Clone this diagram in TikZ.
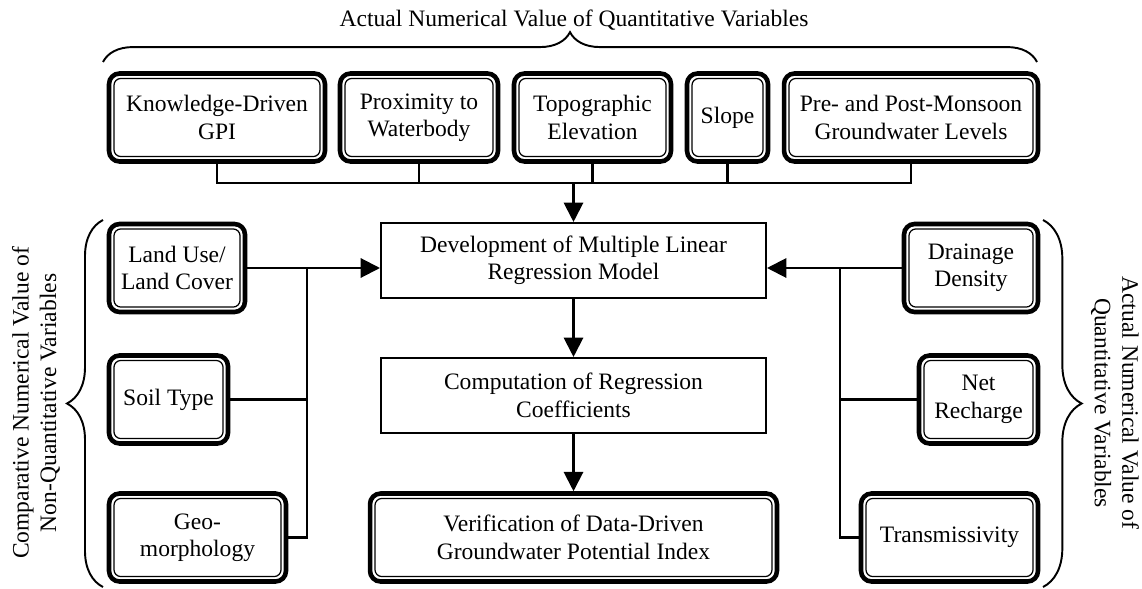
\documentclass[tikz,border=0pt]{standalone}
\usepackage{fontspec}
\setmainfont{Liberation Serif}
\usetikzlibrary{arrows.meta,decorations.pathreplacing}

\begin{document}
\begin{tikzpicture}[x=0.02cm,y=-0.02cm,
  font=\fontsize{13.4}{15.6}\selectfont,
  varbox/.style={draw,line width=2.6pt,rounded corners=6pt,align=center,inner sep=2pt,minimum height=1.76cm,
    path picture={\draw[line width=0.7pt,rounded corners=4pt]
      ([shift={(2.8pt,-2.8pt)}]path picture bounding box.north west) rectangle
      ([shift={(-2.8pt,2.8pt)}]path picture bounding box.south east);}},
  procbox/.style={draw,line width=1.2pt,align=center,minimum width=7.7cm,minimum height=1.5cm},
  link/.style={line width=1.2pt},
  arr/.style={link,-{Triangle[length=11pt,width=11pt]}},
  grp/.style={line width=1.1pt,decorate,decoration={brace,amplitude=#1}}]
  \useasboundingbox (0,0) rectangle (1142,588);

  \node (toplbl) at (574,20) {Actual Numerical Value of Quantitative Variables};
  \node[rotate=90,align=center] (leftlbl) at (36,403) {Comparative Numerical Value of\\Non-Quantitative Variables};
  \node[rotate=-90,align=center] (rightlbl) at (1115,403) {Actual Numerical Value of\\Quantitative Variables};

  \node[varbox,minimum width=4.32cm] (kgpi) at (217,117.5) {Knowledge-Driven\\GPI};
  \node[varbox,minimum width=3.16cm] (prox) at (419,117.5) {Proximity to\\Waterbody};
  \node[varbox,minimum width=3.14cm] (topo) at (592.5,117.5) {Topographic\\Elevation};
  \node[varbox,minimum width=1.62cm] (slope) at (727.5,117.5) {Slope};
  \node[varbox,minimum width=5.08cm] (gwl) at (911,117.5) {Pre- and Post-Monsoon\\Groundwater Levels};

  \node[varbox,minimum width=2.72cm] (lulc) at (177,268) {Land Use/\\Land Cover};
  \node[varbox,minimum width=2.38cm] (soil) at (168.5,399.5) {Soil Type};
  \node[varbox,minimum width=3.54cm] (geo) at (197.5,537.5) {Geo-\\morphology};

  \node[varbox,minimum width=2.68cm] (drain) at (971,268) {Drainage\\Density};
  \node[varbox,minimum width=2.38cm] (netr) at (978.5,399.5) {Net\\Recharge};
  \node[varbox,minimum width=3.54cm] (trans) at (949.5,537.5) {Transmissivity};

  \node[procbox] (dev) at (573.5,260.5) {Development of Multiple Linear\\Regression Model};
  \node[procbox] (comp) at (573.5,395.5) {Computation of Regression\\Coefficients};
  \node[varbox,minimum width=8.14cm] (verif) at (573.5,537.5) {Verification of Data-Driven\\Groundwater Potential Index};

  \coordinate (tb) at (573.5,183);
  \draw[link] (kgpi.south) |- (tb) -| (gwl.south);
  \draw[link] (prox.south) -- (prox.south |- tb);
  \draw[link] (topo.south) -- (topo.south |- tb);
  \draw[link] (slope.south) -- (slope.south |- tb);
  \draw[arr] (tb) -- (dev.north);

  \coordinate (lb) at (307,268);
  \draw[link] (soil.east) -| (lb);
  \draw[link] (geo.east) -| (lb);
  \draw[arr] (lulc.east) -- (dev.west |- lulc.east);

  \coordinate (rb) at (840,268);
  \draw[link] (netr.west) -| (rb);
  \draw[link] (trans.west) -| (rb);
  \draw[arr] (drain.west) -- (dev.east |- drain.west);

  \draw[arr] (dev.south) -- (comp.north);
  \draw[arr] (comp.south) -- (verif.north);

  \draw[grp=17pt] (103,62) -- (1037,62);
  \draw[grp=20.5pt] (103,587) -- (103,220);
  \draw[grp=22pt] (1043,220) -- (1043,587);
\end{tikzpicture}
\end{document}
